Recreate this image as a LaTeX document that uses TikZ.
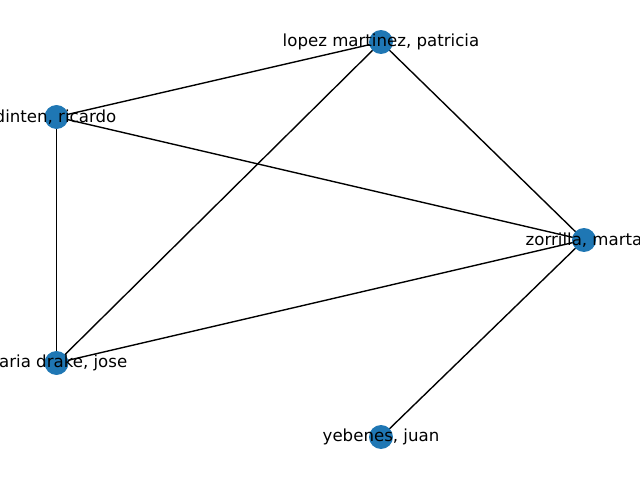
\documentclass[tikz,border=0pt]{standalone}
\usepackage{fontspec}
\setmainfont{DejaVu Sans}
\usetikzlibrary{backgrounds}
\definecolor{nodeblue}{HTML}{1F77B4}

\begin{document}
\begin{tikzpicture}[
    x=0.01in,y=-0.01in,
    vertex/.style={circle,fill=nodeblue,minimum size=17.3pt,inner sep=0pt},
    vlabel/.style={font=\fontsize{12}{14}\selectfont,inner sep=0pt},
    edge/.style={line width=1pt}
]
  \useasboundingbox (0,0) rectangle (640,480);
  \clip (0,0) rectangle (640,480);
  % Vertices
  \node[vertex] (patricia) at (381,42) {};
  \node[vertex] (ricardo) at (56.5,117) {};
  \node[vertex] (marta) at (584,240) {};
  \node[vertex] (jose) at (56.5,363) {};
  \node[vertex] (juan) at (381,437) {};
  % Edges
  \begin{scope}[on background layer]
    \draw[edge] (ricardo.center) -- (patricia.center);
    \draw[edge] (ricardo.center) -- (marta.center);
    \draw[edge] (ricardo.center) -- (jose.center);
    \draw[edge] (patricia.center) -- (jose.center);
    \draw[edge] (patricia.center) -- (marta.center);
    \draw[edge] (marta.center) -- (jose.center);
    \draw[edge] (marta.center) -- (juan.center);
  \end{scope}
  % Labels
  \node[vlabel] (patricia-l) at (patricia) {lopez martinez, patricia};
  \node[vlabel,anchor=east] (ricardo-l) at ([xshift=0.6in]ricardo.center) {dinten, ricardo};
  \node[vlabel] (marta-l) at (marta) {zorrilla, marta};
  \node[vlabel,anchor=east] (jose-l) at ([xshift=0.71in]jose.center) {aria drake, jose};
  \node[vlabel] (juan-l) at (juan) {yebenes, juan};
\end{tikzpicture}
\end{document}
